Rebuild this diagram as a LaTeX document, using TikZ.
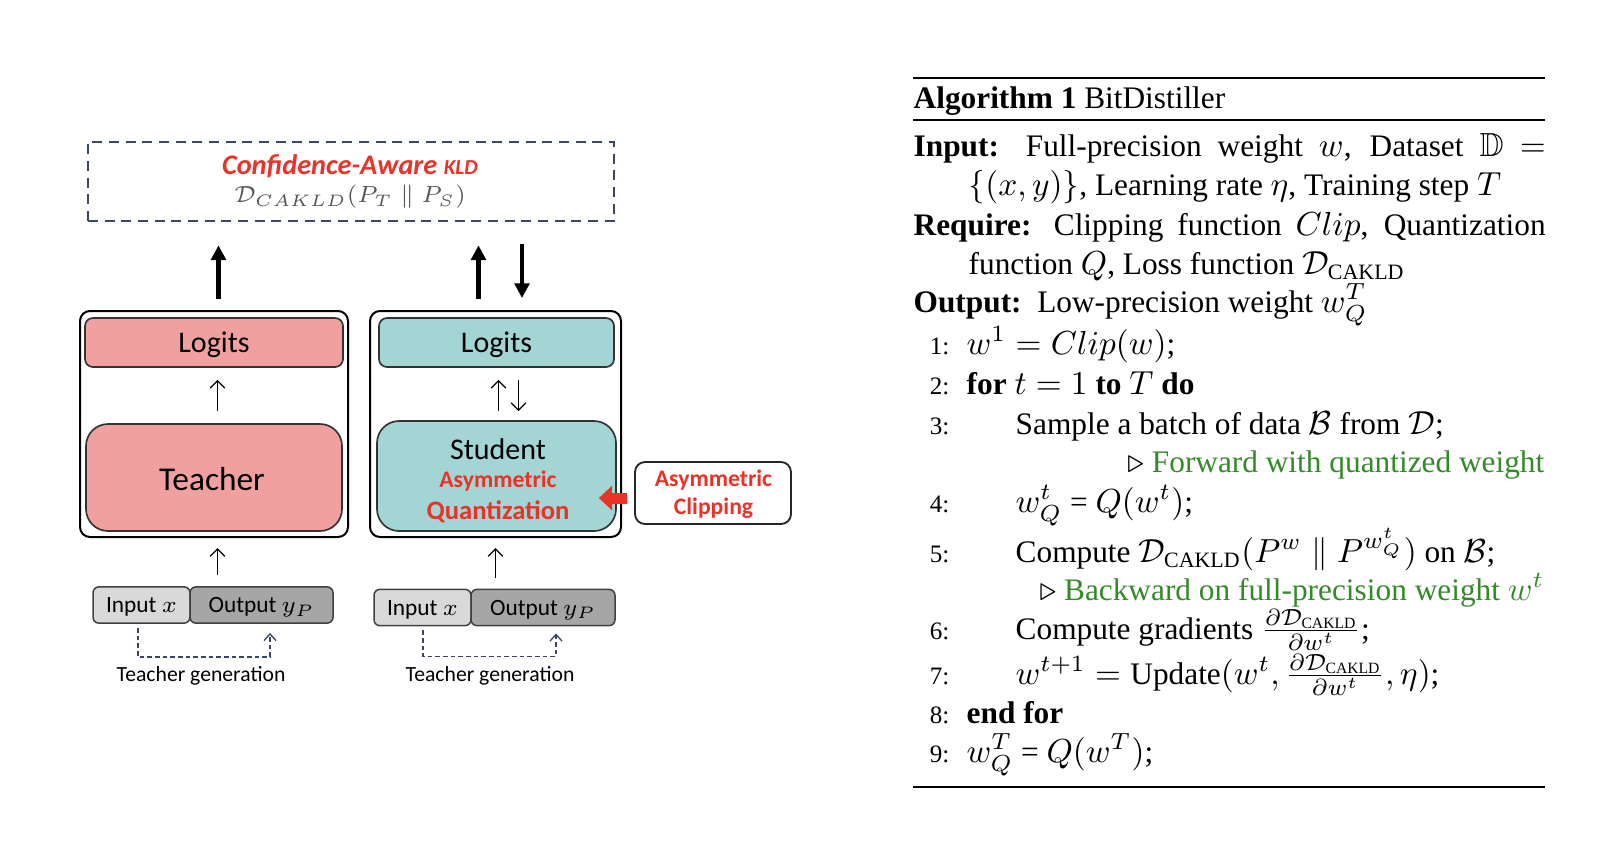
\documentclass[tikz,border=0pt]{standalone}
\usepackage{amsmath,amssymb}
\usepackage[no-math]{fontspec}
\setmainfont{Liberation Serif}[Scale=0.94]
\newfontfamily\carlito{Carlito}
\usetikzlibrary{arrows.meta,calc}
\definecolor{pinkf}{RGB}{240,161,159}
\definecolor{tealf}{RGB}{162,213,211}
\definecolor{redt}{RGB}{233,50,40}
\definecolor{navy}{RGB}{60,72,98}
\definecolor{grn}{RGB}{52,137,40}
\definecolor{lgray}{RGB}{217,217,217}
\definecolor{dgray}{RGB}{166,166,166}
\definecolor{fgray}{RGB}{85,85,85}
\begin{document}
\begin{tikzpicture}[x=0.3pt,y=-0.3pt,
  outerbox/.style={draw=black, line width=0.6pt, rounded corners=3pt, inner sep=0pt},
  innerbox/.style={draw=black!80, line width=0.5pt, inner sep=0pt},
  lbl/.style={inner sep=0pt, font=\carlito\fontsize{9}{10}\selectfont},
  redlbl/.style={inner sep=0pt, text=redt, font=\carlito\bfseries\fontsize{7.1}{8}\selectfont},
  iobox/.style={draw=black!75, line width=0.45pt, rounded corners=1.8pt, inner sep=0pt,
     minimum height=10.9pt, text height=5pt, text depth=0.4pt, font=\carlito\fontsize{7}{8}\selectfont},
  biga/.style={line width=1.3pt, -{Triangle[width=4.4pt,length=4.4pt]}},
  smalla/.style={line width=0.4pt, -{Straight Barb[length=2.2pt,width=4.4pt]}},
  gena/.style={draw=navy, line width=0.4pt, dash pattern=on 1.4pt off 0.9pt, -{Straight Barb[length=2pt,width=3.6pt]}},
  reda/.style={draw=redt, line width=3.3pt, -{Triangle[width=7.2pt,length=4pt]}},
  alg/.style={anchor=base west, inner sep=0pt, font=\fontsize{10}{12}\selectfont},
  num/.style={anchor=base east, inner sep=0pt, font=\fontsize{8}{10}\selectfont},
  cmt/.style={anchor=base east, inner sep=0pt, font=\fontsize{10}{12}\selectfont}
]
\useasboundingbox (0,0) rectangle (1624,860);

% ---------- top dashed box ----------
\node[draw=navy, line width=0.6pt, dash pattern=on 3pt off 2pt, inner sep=0pt,
      minimum width=157.8pt, minimum height=23.7pt] (kld) at (351,181.5) {};
\node[inner sep=0pt, text=redt, font=\carlito\bfseries\itshape\fontsize{8.5}{10}\selectfont] (kldt) at (350,166)
  {Confidence-Aware {\fontsize{6.4}{8}\selectfont KLD}};
\node[inner sep=0pt, text=fgray, font=\fontsize{6.9}{8}\selectfont] (kldf) at (350,197)
  {$\mathcal{D}_{CAKLD}(P_T \parallel P_S)$};

% ---------- teacher ----------
\node[outerbox, minimum width=80.4pt, minimum height=67.8pt] (tout) at (214,424) {};
\node[innerbox, fill=pinkf, rounded corners=2.4pt, minimum width=77.4pt, minimum height=14.7pt] (tlog) at (214,342.5) {};
\node[lbl] (tlogt) at (214,345) {Logits};
\node[innerbox, fill=pinkf, rounded corners=6.6pt, minimum width=76.8pt, minimum height=32.1pt] (tbox) at (214,477.5) {};
\node[lbl, font=\carlito\fontsize{10}{12}\selectfont] (tboxt) at (212,479) {Teacher};
\draw[smalla, shorten <=3.6pt, shorten >=3.6pt] ($(tbox.north)+(3.5,0)$) -- ($(tlog.south)+(3.5,0)$);

% ---------- student ----------
\node[outerbox, minimum width=75.3pt, minimum height=67.8pt] (sout) at (495.5,424) {};
\node[innerbox, fill=tealf, rounded corners=2.4pt, minimum width=70.5pt, minimum height=14.7pt] (slog) at (496.5,342.5) {};
\node[lbl] (slogt) at (496.5,345) {Logits};
\node[innerbox, fill=tealf, rounded corners=6.6pt, minimum width=71.7pt, minimum height=33pt] (sbox) at (496.5,476) {};
\node[lbl] (sboxt) at (498,449) {Student};
\node[redlbl] (sasym) at (498,481) {Asymmetric};
\node[redlbl, font=\carlito\bfseries\fontsize{8}{9}\selectfont] (squant) at (498,512) {Quantization};
\draw[smalla, shorten <=2.7pt, shorten >=3.6pt] ($(sbox.north)+(2,0)$) -- ($(slog.south)+(2,0)$);
\draw[smalla, shorten <=3.6pt, shorten >=2.7pt] ($(slog.south)+(22,0)$) -- ($(sbox.north)+(22,0)$);

% ---------- clipping ----------
\node[draw=black!85, line width=0.55pt, rounded corners=3pt, inner sep=0pt,
      minimum width=46.8pt, minimum height=18.6pt] (clip) at (713,493) {};
\node[redlbl] (clipa) at (713.5,480.5) {Asymmetric};
\node[redlbl] (clipb) at (713.5,508.5) {Clipping};
\draw[reda] ($(clip.west)+(-7,5)$) -- ($(sbox.east |- clip.west)+(-18,5)$);

% ---------- big arrows ----------
\draw[biga, shorten <=3.3pt, shorten >=7pt] ($(tout.north)+(4.5,0)$) -- ($(tout.north |- kld.south)+(4.5,0)$);
\draw[biga, shorten <=3.3pt, shorten >=7pt] ($(sout.north)+(-17,0)$) -- ($(sout.north |- kld.south)+(-17,0)$);
\draw[biga, shorten <=6.6pt, shorten >=3.6pt] ($(sout.north |- kld.south)+(26.5,0)$) -- ($(sout.north)+(26.5,0)$);

% ---------- inputs / outputs ----------
\node[iobox, fill=lgray, minimum width=29.1pt] (in1) at (141.5,605) {Input $x$};
\node[iobox, fill=dgray, minimum width=42.9pt] (out1) at (261.5,605) {Output $y_P$};
\node[iobox, fill=lgray, minimum width=29.1pt] (in2) at (422.5,607.5) {Input $x$};
\node[iobox, fill=dgray, minimum width=43.2pt] (out2) at (543,607.5) {Output $y_P$};

\draw[smalla, shorten <=3.3pt, shorten >=3pt] ($(tout.south |- in1.north)+(3.5,0)$) -- ($(tout.south)+(3.5,0)$);
\draw[smalla, shorten <=3.3pt, shorten >=3pt] (sout.south |- in2.north) -- (sout.south);

\draw[gena] ($(in1.south)+(-3.5,4)$) -- ($(in1.south)+(-3.5,33)$) -| ($(out1.south)+(8.5,9)$);
\draw[gena] ($(in2.south)+(0.5,4)$) -- ($(in2.south)+(0.5,30)$) -| ($(out2.south)+(13,7)$);

\node[inner sep=0pt, font=\carlito\fontsize{6.5}{8}\selectfont] (gen1) at (201,676) {Teacher generation};
\node[inner sep=0pt, font=\carlito\fontsize{6.5}{8}\selectfont] (gen2) at (490,676) {Teacher generation};

% ---------- algorithm ----------
\draw[line width=0.65pt] (913,78) -- (1545,78);
\node[alg] (atitle) at (913,108) {\textbf{Algorithm 1} BitDistiller};
\draw[line width=0.4pt] (913,120) -- (1545,120);

\node[alg] (ain) at (913,156) {\makebox[189.6pt][s]{\textbf{Input:} Full-precision weight $w$, Dataset $\mathbb{D}$ $=$}};
\node[alg] (ain2) at (968,195) {$\{(x,y)\}$, Learning rate $\eta$, Training step $T$};
\node[alg] (areq) at (913,235) {\makebox[189.6pt][s]{\textbf{Require:} Clipping function $Clip$, Quantization}};
\node[alg] (areq2) at (968,274) {function $Q$, Loss function $\mathcal{D}_{\text{CAKLD}}$};
\node[alg] (aout) at (913,312) {\textbf{Output:}\ \ Low-precision weight $w_Q^T$};

\node[num] (n1) at (950,354) {1:};
\node[alg] (l1) at (966,354) {$w^1 = Clip(w)$;};
\node[num] (n2) at (950,394) {2:};
\node[alg] (l2) at (966,394) {\textbf{for} $t = 1$ \textbf{to} $T$ \textbf{do}};
\node[num] (n3) at (950,434) {3:};
\node[alg] (l3) at (1015,434) {Sample a batch of data $\mathcal{B}$ from $\mathcal{D}$;};
\node[cmt] (c1) at (1545,472) {$\triangleright$ \textcolor{grn}{Forward with quantized weight}};
\node[num] (n4) at (950,512) {4:};
\node[alg] (l4) at (1015,512) {$w_Q^t$ = $Q(w^t)$;};
\node[num] (n5) at (950,562) {5:};
\node[alg] (l5) at (1015,562) {Compute $\mathcal{D}_{\text{CAKLD}}(P^w \parallel P^{w_Q^t})$ on $\mathcal{B}$;};
\node[cmt] (c2) at (1545,600) {$\triangleright$ \textcolor{grn}{Backward on full-precision weight $w^t$}};
\node[num] (n6) at (950,639) {6:};
\node[alg] (l6) at (1015,639) {Compute gradients $\frac{\partial \mathcal{D}_{\text{CAKLD}}}{\partial w^t}$;};
\node[num] (n7) at (950,684) {7:};
\node[alg] (l7) at (1015,684) {$w^{t+1} = \text{Update}(w^t, \frac{\partial \mathcal{D}_{\text{CAKLD}}}{\partial w^t}, \eta)$;};
\node[num] (n8) at (950,723) {8:};
\node[alg] (l8) at (966,723) {\textbf{end for}};
\node[num] (n9) at (950,762) {9:};
\node[alg] (l9) at (966,762) {$w_Q^T$ = $Q(w^T)$;};
\draw[line width=0.55pt] (913,787) -- (1545,787);
\end{tikzpicture}
\end{document}
